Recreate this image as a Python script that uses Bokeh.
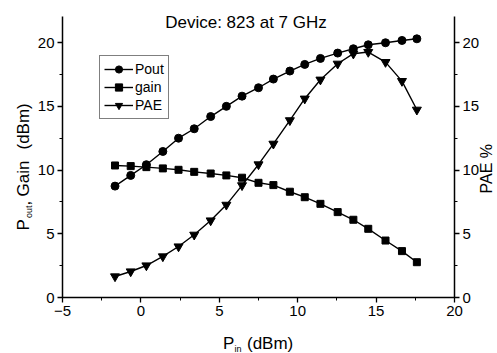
import math
from bokeh.plotting import figure
from bokeh.models import Range1d, LinearAxis, SingleIntervalTicker, Label, Legend, LegendItem
from bokeh.embed import file_html
from bokeh.resources import INLINE

# ---- data ----
pin = [-1.65, -0.65, 0.35, 1.4, 2.4, 3.4, 4.45, 5.45, 6.45, 7.5,
       8.45, 9.5, 10.45, 11.45, 12.55, 13.55, 14.5, 15.6, 16.65, 17.6]
pout = [8.74, 9.58, 10.42, 11.46, 12.5, 13.24, 14.2, 15.0, 15.8, 16.46,
        17.14, 17.77, 18.29, 18.76, 19.18, 19.52, 19.83, 19.99, 20.17, 20.3]
gain = [10.36, 10.31, 10.23, 10.13, 10.02, 9.86, 9.73, 9.58, 9.4, 9.0,
        8.82, 8.3, 7.87, 7.35, 6.7, 6.1, 5.39, 4.47, 3.64, 2.77]
pae = [1.65, 2.04, 2.51, 3.22, 4.0, 4.92, 6.04, 7.27, 8.8, 10.44,
       12.06, 13.9, 15.6, 17.09, 18.34, 19.13, 19.26, 18.47, 16.98, 14.73]

title_text = "Device: 823 at 7 GHz"
series_names = ["Pout", "gain", "PAE"]
x_axis_span = (-5, 20)
y_axis_span = (0, 22.05)

FONT = "Liberation Sans"
W, H = 497, 353
# pixel box of the axes on the page
AX_L, AX_R, AX_T, AX_B = 62, 454, 16, 297
sx = (AX_R - AX_L) / (x_axis_span[1] - x_axis_span[0])
sy = (AX_B - AX_T) / (y_axis_span[1] - y_axis_span[0])
XMIN = x_axis_span[0] - AX_L / sx
XMAX = x_axis_span[1] + (W - AX_R) / sx
YMAX = y_axis_span[0] + AX_B / sy
YMIN = y_axis_span[0] - (H - AX_B) / sy

p = figure(width=W, height=H, output_backend="svg", toolbar_location=None,
           x_range=Range1d(XMIN, XMAX), y_range=Range1d(YMIN, YMAX),
           min_border=0, min_border_left=0, min_border_right=0,
           min_border_top=0, min_border_bottom=0)
p.extra_y_ranges = {"pae": Range1d(YMIN, YMAX)}
p.outline_line_color = None
p.xgrid.visible = False
p.ygrid.visible = False
p.background_fill_color = "white"
p.border_fill_color = "white"

def style_axis(ax):
    ax.ticker = SingleIntervalTicker(interval=5, num_minor_ticks=2)
    ax.axis_line_color = "black"
    ax.axis_line_width = 1.5
    ax.major_tick_line_color = "black"
    ax.major_tick_line_width = 1.3
    ax.minor_tick_line_color = "black"
    ax.major_tick_out = 5
    ax.major_tick_in = 0
    ax.minor_tick_out = 3
    ax.minor_tick_in = 0
    ax.major_label_text_font = FONT
    ax.major_label_text_font_size = "15px"
    ax.major_label_text_color = "black"
    ax.major_label_standoff = 3

xa = p.xaxis[0]
style_axis(xa)
xa.fixed_location = y_axis_span[0]
xa.bounds = x_axis_span
ya = p.yaxis[0]
style_axis(ya)
ya.fixed_location = x_axis_span[0]
ya.bounds = y_axis_span
rax = LinearAxis(y_range_name="pae", fixed_location=x_axis_span[1], bounds=y_axis_span)
style_axis(rax)
p.add_layout(rax, "right")

def dx(px):
    return XMIN + px / W * (XMAX - XMIN)
def dy(py):
    return YMAX - py / H * (YMAX - YMIN)

lw = 1.4
r1l = p.line(pin, pout, line_color="black", line_width=lw)
r1m = p.scatter(pin, pout, marker="circle", size=8, fill_color="black", line_color="black")
r2l = p.line(pin, gain, line_color="black", line_width=lw)
r2m = p.scatter(pin, gain, marker="square", size=7, fill_color="black", line_color="black")
r3l = p.line(pin, pae, line_color="black", line_width=lw, y_range_name="pae")
r3m = p.scatter(pin, pae, marker="inverted_triangle", size=9, fill_color="black",
                line_color="black", y_range_name="pae")

legend = Legend(items=[LegendItem(label=series_names[0], renderers=[r1l, r1m]),
                       LegendItem(label=series_names[1], renderers=[r2l, r2m]),
                       LegendItem(label=series_names[2], renderers=[r3l, r3m])],
                location=(99, H - 119))
legend.label_text_font = FONT
legend.label_text_font_size = "14px"
legend.label_text_color = "black"
legend.border_line_color = "black"
legend.border_line_width = 1
legend.background_fill_alpha = 1
legend.padding = 4
legend.spacing = 0
legend.margin = 0
legend.glyph_width = 29
legend.glyph_height = 18
legend.label_height = 18
legend.label_standoff = 2
p.add_layout(legend, "center")

def lab(text, px, py, size, angle=0, align="left", baseline="alphabetic"):
    p.add_layout(Label(x=dx(px), y=dy(py), text=text, text_font=FONT,
                       text_font_size=size, text_color="black", angle=angle,
                       text_align=align, text_baseline=baseline))

# title
lab(title_text, 245.5, 22, "17px", align="center")
# x axis label: P_in (dBm)
lab("P", 222.5, 343, "17px")
lab("in", 234, 348, "9px")
lab("(dBm)", 246.5, 343, "17px")
# left y label (rotated): P_out, Gain (dBm)
a = math.pi / 2
lab("P", 23, 230, "17px", angle=a)
lab("out", 28.5, 217.5, "9px", angle=a)
lab(",", 23, 205, "17px", angle=a)
lab("Gain", 23, 196, "17px", angle=a)
lab("(dBm)", 23, 149, "17px", angle=a)
# right y label (rotated)
lab("PAE %", 486, 193, "16px", angle=a)

open("out.html", "w").write(file_html(p, INLINE))
